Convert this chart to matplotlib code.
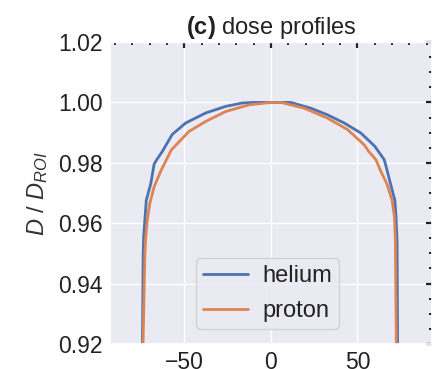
import matplotlib
matplotlib.use("Agg")
import matplotlib.pyplot as plt
from matplotlib.ticker import MultipleLocator
import seaborn as sns

# lateral dose profiles, normalised to the mean dose in the ROI
helium_x = [-74.5, -73.8, -73.5, -72.7, -72.0, -69.4, -67.5, -66.0, -62.7, -57.0,
            -49.2, -37.7, -26.1, -16.6, -10.0, 0.0, 11.5, 23.0, 32.7, 42.3,
            51.9, 60.0, 65.4, 66.2, 69.1, 71.6, 72.3, 72.9, 73.4]
helium_d = [0.900, 0.950, 0.9555, 0.962, 0.9676, 0.9731, 0.9795, 0.981, 0.9838, 0.9894,
            0.9932, 0.9965, 0.9987, 0.9998, 1.000, 1.000, 1.000, 0.9981, 0.9959, 0.9932,
            0.9899, 0.9855, 0.9811, 0.9795, 0.9731, 0.9676, 0.962, 0.954, 0.900]

proton_x = [-74.6, -72.8, -72.3, -71.4, -70.0, -67.5, -63.6, -57.5, -47.3, -37.7,
            -26.1, -12.7, 0.0, 5.8, 19.2, 32.7, 44.3, 53.8, 56.5, 60.6,
            63.4, 67.1, 70.0, 71.4, 71.9, 72.8]
proton_d = [0.900, 0.950, 0.9555, 0.961, 0.9665, 0.972, 0.9773, 0.9843, 0.9904, 0.9937,
            0.997, 0.9992, 1.000, 1.000, 0.9981, 0.9948, 0.991, 0.986, 0.9838, 0.9811,
            0.9773, 0.9729, 0.9676, 0.962, 0.9545, 0.900]

sns.set_theme(style="darkgrid")
plt.rcParams['font.family'] = ['Liberation Sans', 'DejaVu Sans']
plt.rcParams['mathtext.fontset'] = 'custom'
plt.rcParams['mathtext.rm'] = 'Liberation Sans'
plt.rcParams['mathtext.it'] = 'Liberation Sans:italic'
plt.rcParams['mathtext.bf'] = 'Liberation Sans:bold'

fig = plt.figure(figsize=(4.38, 3.69), dpi=100)
ax = fig.add_axes([0.251, 0.068, 0.735, 0.818])

ax.plot(helium_x, helium_d, color="#4C72B0", lw=2.0, label="helium")
ax.plot(proton_x, proton_d, color="#DD8452", lw=2.0, label="proton")

ax.set_xlim(-93, 93)
ax.set_ylim(0.92, 1.02)
ax.xaxis.set_major_locator(MultipleLocator(50))
ax.xaxis.set_minor_locator(MultipleLocator(10))
ax.yaxis.set_major_locator(MultipleLocator(0.02))
ax.yaxis.set_minor_locator(MultipleLocator(0.005))
ax.yaxis.set_major_formatter(matplotlib.ticker.FormatStrFormatter("%.2f"))
ax.tick_params(which="both", direction="in", top=True, right=True,
               color="#222222", labelsize=16.5, labelcolor="#222222", pad=5)
ax.tick_params(which="major", length=4, width=1.6)
ax.tick_params(which="minor", length=2, width=1.4)

ax.set_ylabel(r"$D$ / $D_{ROI}$", fontsize=17, color="#333333", labelpad=6)
ax.set_title(r"$\mathbf{(c)}$ dose profiles", fontsize=17, color="#222222", pad=6)

leg = ax.legend(loc="lower center", fontsize=17, frameon=True, handlelength=1.9,
                borderpad=0.3, labelspacing=0.55, handletextpad=0.6,
                bbox_to_anchor=(0.49, 0.01))
leg.get_frame().set_edgecolor("#cccccc")
for t in leg.get_texts():
    t.set_color("#222222")

fig.savefig("out.png", dpi=100)
